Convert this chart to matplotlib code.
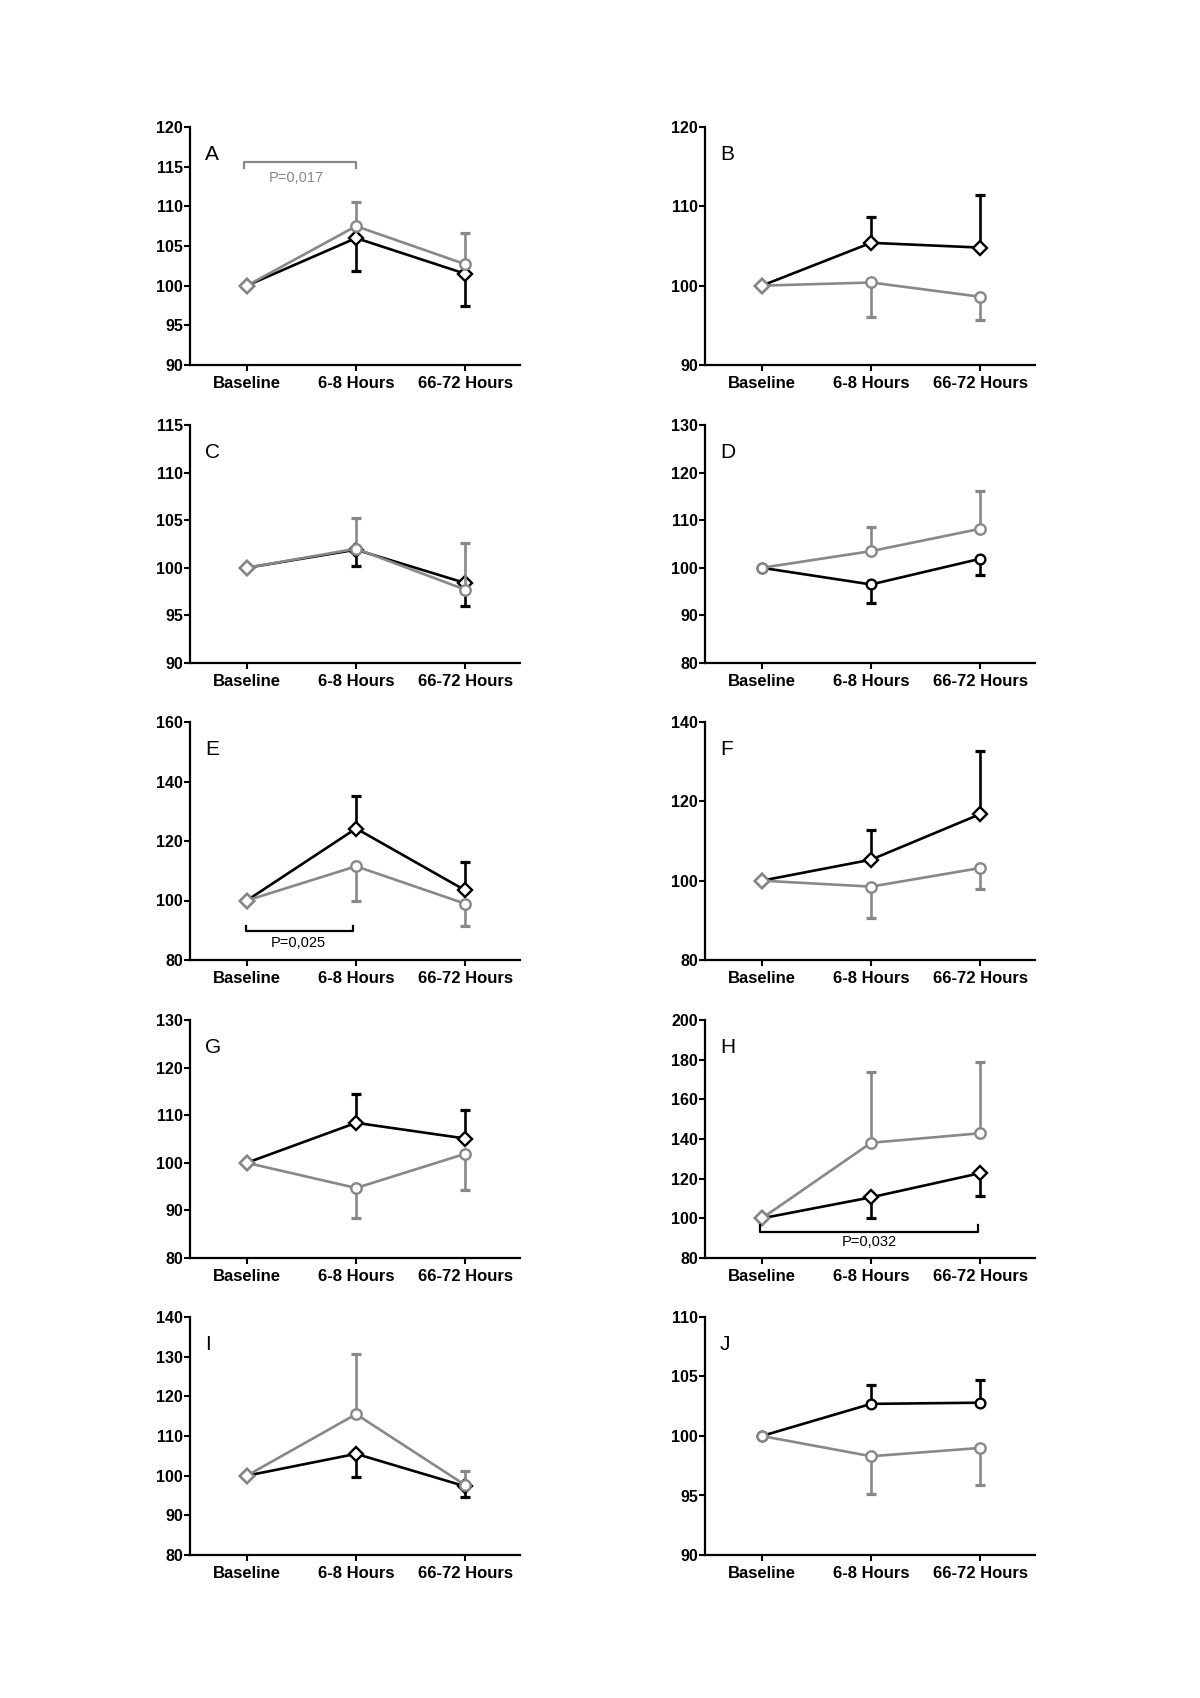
import numpy as np
import matplotlib.pyplot as plt

plt.rcParams['font.family'] = ['Liberation Sans', 'DejaVu Sans']

time_labels = ['Baseline', '6-8 Hours', '66-72 Hours']
panel_names = ['A', 'B', 'C', 'D', 'E', 'F', 'G', 'H', 'I', 'J']

# means (% of baseline) and one-sided error bars
black_mean = [[100, 106.0, 101.5], [100, 105.4, 104.8], [100, 101.9, 98.4],
              [100, 96.5, 101.9], [100, 124.2, 103.4], [100, 105.3, 116.8],
              [100, 108.4, 105.1], [100, 110.6, 122.8], [100, 105.5, 97.3],
              [100, 102.7, 102.8]]
black_err = [[0, 4.2, 4.1], [0, 3.2, 6.6], [0, 1.7, 2.4], [0, 3.9, 3.5],
             [0, 10.8, 9.5], [0, 7.5, 16.0], [0, 6.0, 5.9], [0, 10.2, 11.6],
             [0, 5.9, 2.7], [0, 1.6, 1.9]]
black_dir = ['down', 'up', 'down', 'down', 'up', 'up', 'up', 'down', 'down', 'up']
black_marker = ['D', 'D', 'D', 'o', 'D', 'D', 'D', 'D', 'D', 'o']

gray_mean = [[100, 107.5, 102.7], [100, 100.4, 98.6], [100, 102.0, 97.7],
             [100, 103.5, 108.2], [100, 111.5, 98.9], [100, 98.5, 103.2],
             [100, 94.7, 101.9], [100, 138.1, 142.9], [100, 115.5, 97.6],
             [100, 98.3, 99.0]]
gray_err = [[0, 3.1, 4.0], [0, 4.3, 2.9], [0, 3.2, 4.9], [0, 5.0, 7.9],
            [0, 11.6, 7.6], [0, 7.9, 5.3], [0, 6.2, 7.6], [0, 35.9, 35.9],
            [0, 15.2, 3.5], [0, 3.2, 3.1]]
gray_dir = ['up', 'down', 'up', 'up', 'down', 'down', 'down', 'up', 'up', 'down']

y_min = [90, 90, 90, 80, 80, 80, 80, 80, 80, 90]
y_max = [120, 120, 115, 130, 160, 140, 130, 200, 140, 110]
y_step = [5, 10, 5, 10, 20, 20, 10, 20, 10, 5]

# significance brackets: panel, x start, x end, bar y, tick end y, label, label x, label y, colour
brackets = [
    (0, -0.03, 1.0, 115.6, 114.8, 'P=0,017', 0.45, 113.6, '#888888'),
    (4, -0.01, 0.97, 89.6, 91.3, 'P=0,025', 0.47, 85.6, 'black'),
    (7, -0.02, 1.98, 93.1, 96.5, 'P=0,032', 0.98, 88.0, 'black'),
]

GRAY = '#888888'
W, H = 1200, 1698
fig = plt.figure(figsize=(12, 16.98), dpi=100)

col_left = [190, 705]
row_top = [127, 425, 722, 1020, 1317]
ax_w, ax_h = 330, 238

x = np.arange(3)
for i, name in enumerate(panel_names):
    r, c = divmod(i, 2)
    ax = fig.add_axes([col_left[c] / W, 1 - (row_top[r] + ax_h) / H, ax_w / W, ax_h / H])

    for mean, err, d, col, z in [(black_mean[i], black_err[i], black_dir[i], 'black', 2),
                                 (gray_mean[i], gray_err[i], gray_dir[i], GRAY, 4)]:
        zeros = [0, 0, 0]
        yerr = [zeros, err] if d == 'up' else [err, zeros]
        ax.errorbar(x[1:], mean[1:], yerr=[yerr[0][1:], yerr[1][1:]], fmt='none',
                    ecolor=col, elinewidth=1.9, capsize=3.5, capthick=2.3, zorder=z)
    ax.plot(x, black_mean[i], color='black', lw=1.9, marker=black_marker[i], ms=7,
            mfc='white', mec='black', mew=1.7, zorder=3)
    ax.plot(x, gray_mean[i], color=GRAY, lw=1.9, marker='o', ms=7.5, markevery=[1, 2],
            mfc='white', mec=GRAY, mew=1.7, zorder=5)
    ax.plot(x[:1], gray_mean[i][:1], ls='none', marker=black_marker[i], ms=7,
            mfc='white', mec=GRAY, mew=1.7, zorder=6)

    ax.set_xlim(-0.52, 2.5)
    ax.set_ylim(y_min[i], y_max[i])
    ax.set_yticks(np.arange(y_min[i], y_max[i] + 0.1, y_step[i]))
    ax.set_xticks(x)
    ax.set_xticklabels(time_labels, fontsize=12, fontweight='bold')
    for lab in ax.get_yticklabels():
        lab.set_fontsize(11.5)
        lab.set_fontweight('bold')
    ax.tick_params(axis='y', direction='out', length=4, width=1.5, pad=1)
    ax.tick_params(axis='x', direction='out', length=4, width=1.5, pad=4)
    for s in ['top', 'right']:
        ax.spines[s].set_visible(False)
    for s in ['left', 'bottom']:
        ax.spines[s].set_linewidth(1.6)
    ax.patch.set_visible(False)

    ax.text(0.045, 0.862, name, transform=ax.transAxes, fontsize=15, va='baseline', ha='left')

for (p, x0, x1, yb, yt, label, lx, ly, col) in brackets:
    ax = fig.axes[p]
    ax.plot([x0, x0, x1, x1], [yt, yb, yb, yt], color=col, lw=1.6, clip_on=False, zorder=7)
    ax.text(lx, ly, label, color=col, fontsize=10.5, ha='center', va='center')

fig.savefig('out.png', dpi=100)
